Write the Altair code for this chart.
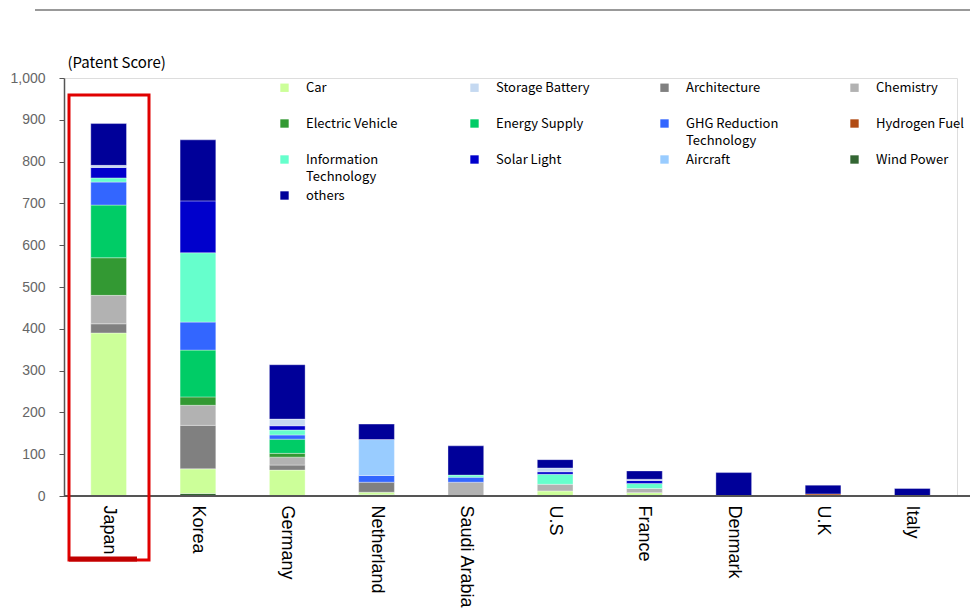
import altair as alt
import pandas as pd

# Countries along the x axis
countries = ["Japan", "Korea", "Germany", "Netherland", "Saudi Arabia",
             "U.S", "France", "Denmark", "U.K", "Italy"]

# Patent score per technology field, one value per country (same order as above)
hydrogen_fuel = [0, 0, 0, 0, 0, 0, 0, 0, 5, 0]
wind_power = [0, 6, 0, 3, 0, 0, 0, 0, 0, 0]
car = [390, 59, 62, 6, 0, 12, 8, 0, 0, 0]
architecture = [22, 104, 12, 24, 0, 0, 0, 0, 0, 0]
chemistry = [68, 48, 19, 0, 33, 16, 10, 0, 0, 0]
electric_vehicle = [90, 20, 9, 0, 0, 0, 0, 0, 0, 0]
energy_supply = [126, 112, 34, 0, 0, 0, 0, 0, 0, 0]
ghg_reduction = [55, 67, 10, 16, 12, 0, 0, 0, 0, 0]
information_tech = [10, 166, 12, 0, 5, 24, 12, 0, 0, 0]
solar_light = [25, 124, 10, 0, 0, 6, 7, 0, 0, 0]
storage_battery = [5, 0, 16, 0, 0, 9, 3, 0, 0, 0]
aircraft = [0, 0, 0, 86, 0, 0, 0, 0, 0, 0]
others = [100, 146, 130, 37, 70, 20, 20, 56, 21, 18]

# Stacking order, bottom to top
stack_fields = [
    ("Hydrogen Fuel", hydrogen_fuel),
    ("Wind Power", wind_power),
    ("Car", car),
    ("Architecture", architecture),
    ("Chemistry", chemistry),
    ("Electric Vehicle", electric_vehicle),
    ("Energy Supply", energy_supply),
    ("GHG Reduction Technology", ghg_reduction),
    ("Information Technology", information_tech),
    ("Solar Light", solar_light),
    ("Storage Battery", storage_battery),
    ("Aircraft", aircraft),
    ("others", others),
]

# Legend entries (filled row by row into four columns) and their colours
legend_fields = ["Car", "Storage Battery", "Architecture", "Chemistry",
                 "Electric Vehicle", "Energy Supply", "GHG Reduction Technology", "Hydrogen Fuel",
                 "Information Technology", "Solar Light", "Aircraft", "Wind Power",
                 "others"]
legend_colors = ["#CCFF99", "#C5D9F1", "#808080", "#B2B2B2",
                 "#339933", "#00CC66", "#3366FF", "#B24C14",
                 "#66FFCC", "#0000CC", "#99CCFF", "#336633",
                 "#000099"]

rows = []
for rank, (field, values) in enumerate(stack_fields):
    for country, v in zip(countries, values):
        if v > 0:
            rows.append({"country": country, "field": field, "score": v, "rank": rank})
df = pd.DataFrame(rows)

# Two-line legend labels; the first legend row gets a blank second line so
# that every legend row has the same height.
label_expr = ("datum.label == 'Information Technology' ? ['Information', 'Technology'] : "
              "datum.label == 'GHG Reduction Technology' ? ['GHG Reduction', 'Technology'] : "
              "indexof(['Car', 'Storage Battery', 'Architecture', 'Chemistry'], datum.label) >= 0"
              " ? [datum.label, ' '] : datum.label")

bars = alt.Chart(df).mark_bar(stroke="white", strokeWidth=0.5, strokeOpacity=0.7).encode(
    x=alt.X("country:N", sort=countries,
            scale=alt.Scale(paddingInner=0.6, paddingOuter=0.3),
            axis=alt.Axis(title=None, labelAngle=90, labelAlign="left", labelBaseline="middle",
                          labelFontSize=18, labelFont="Liberation Sans", labelColor="black",
                          labelPadding=9, ticks=False, domain=False)),
    y=alt.Y("score:Q", stack="zero",
            scale=alt.Scale(domain=[0, 1000], nice=False),
            axis=alt.Axis(values=list(range(0, 1001, 100)), format=",d", grid=False,
                          title="(Patent Score)", titleAngle=0, titleX=3, titleY=-8,
                          titleAlign="left", titleBaseline="bottom", titleFontSize=15,
                          titleFontWeight="normal", titleFont="Noto Sans CJK JP",
                          titleColor="black", labelColor="#666666", labelFontSize=14,
                          labelFont="Liberation Sans", labelPadding=14, tickSize=5,
                          tickColor="#555555", domainColor="#555555", domainWidth=1.5)),
    color=alt.Color("field:N",
                    scale=alt.Scale(domain=legend_fields, range=legend_colors),
                    legend=alt.Legend(title=None, orient="none", legendX=214, legendY=3,
                                      direction="horizontal", columns=4, gridAlign="all",
                                      columnPadding=68, rowPadding=5, symbolType="square",
                                      symbolSize=70, symbolStrokeWidth=0, labelFontSize=13,
                                      labelFont="Noto Sans CJK JP", labelColor="black",
                                      labelOffset=15, labelExpr=label_expr)),
    order=alt.Order("rank:Q", sort="ascending"),
)

one = alt.Data(values=[{}])

baseline = alt.Chart(one).mark_rule(color="#555555", strokeWidth=2).encode(
    x=alt.value(0), x2=alt.value(906), y=alt.value(418))

top_line = alt.Chart(one).mark_rule(color="#999999", strokeWidth=2).encode(
    x=alt.value(-29), x2=alt.value(906), y=alt.value(-68))

highlight = alt.Chart(one).mark_rect(fill="transparent", stroke="#E00000", strokeWidth=3).encode(
    x=alt.value(5), x2=alt.value(85), y=alt.value(17), y2=alt.value(482))

highlight_base = alt.Chart(one).mark_rule(color="#C00000", strokeWidth=5).encode(
    x=alt.value(5), x2=alt.value(73), y=alt.value(481))

chart = alt.layer(bars, baseline, top_line, highlight, highlight_base).properties(
    width=893, height=418,
    autosize=alt.AutoSizeParams(type="none"),
    padding={"left": 64, "top": 78, "right": 13, "bottom": 116},
).configure_view(stroke=None).configure(
    background="white",
    style={"guide-label": {"lineHeight": 17}},
)

chart.save("out.html", embed_options={"renderer": "svg", "actions": False})
